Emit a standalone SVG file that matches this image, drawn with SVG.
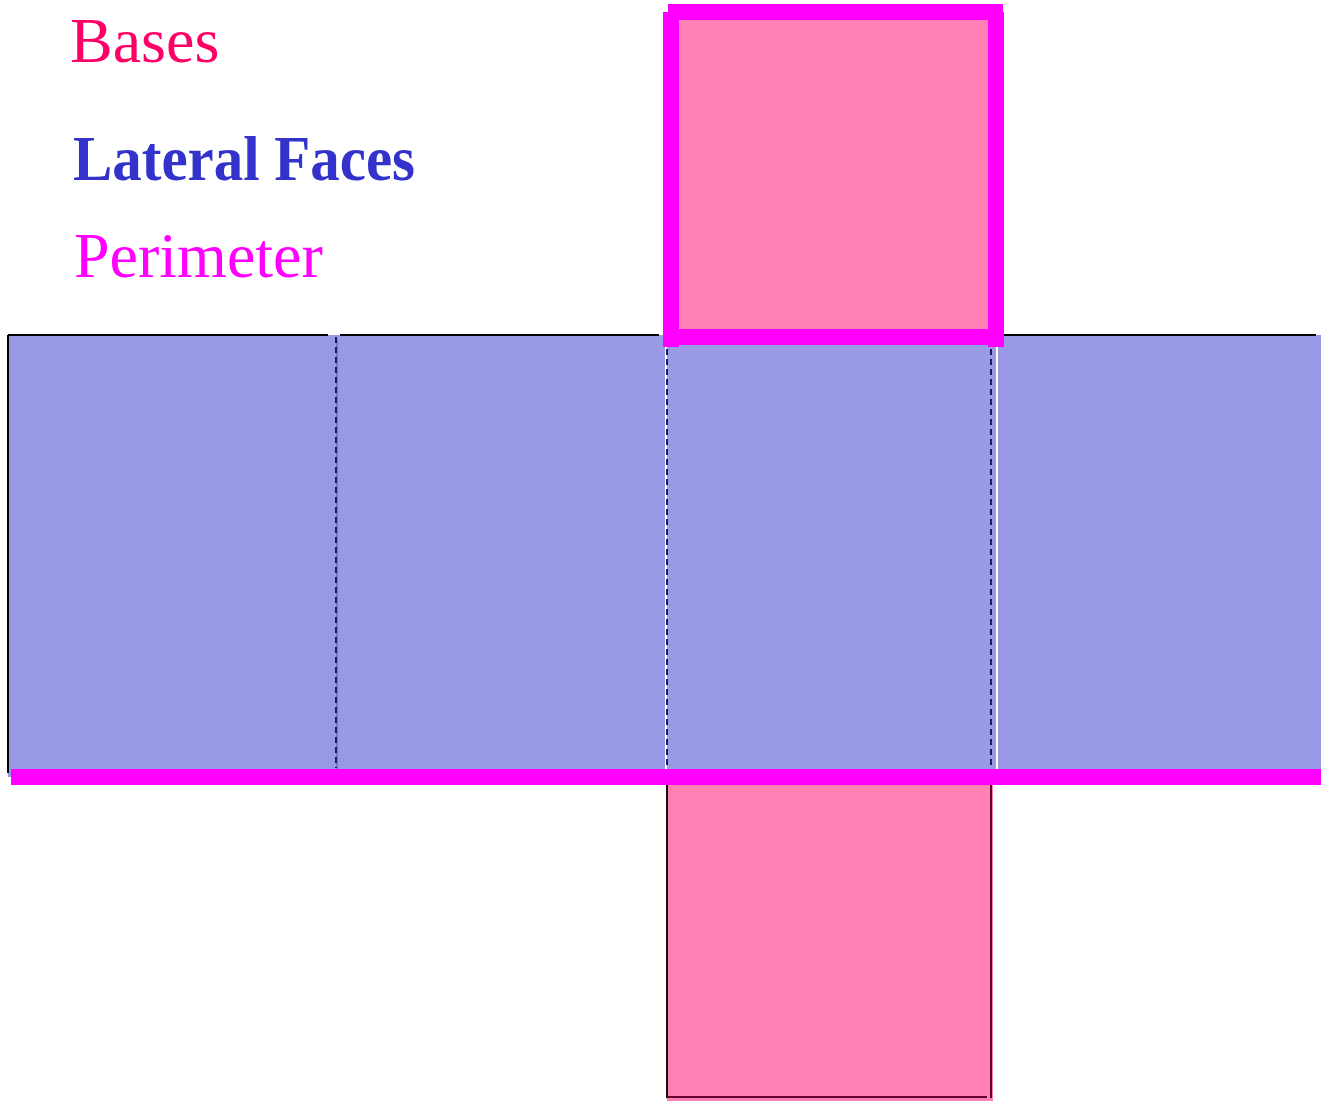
<svg xmlns="http://www.w3.org/2000/svg" width="1321" height="1101" viewBox="0 0 1321 1101">
<style>
.lbl{font-family:"Liberation Serif","Times New Roman",serif;font-size:64px}
.fold{stroke:#1a1a66;stroke-width:2;stroke-dasharray:6,4;fill:none}
.edge{stroke:#000;stroke-width:2;fill:none}
.per{stroke:#ff00ff;stroke-width:16;fill:none}
</style>
<rect width="1321" height="1101" fill="#fff"/>
<g id="legend">
<text class="lbl" x="70" y="62" fill="#ff0066">Bases</text>
<text class="lbl" x="73" y="180" fill="#3333cc" font-weight="bold" textLength="342" lengthAdjust="spacingAndGlyphs">Lateral Faces</text>
<text class="lbl" x="74" y="277" fill="#ff00ff">Perimeter</text>
</g>
<g id="lateral">
<rect x="8" y="335" width="1313" height="442" fill="#9999e6"/>
<line x1="666" y1="340" x2="666" y2="770" stroke="#fff" stroke-width="2"/>
<line x1="997" y1="340" x2="997" y2="770" stroke="#fff" stroke-width="2"/>
<line x1="337" y1="340" x2="337" y2="770" stroke="#5555cc" stroke-width="1"/>
</g>
<g id="bottom-base">
<rect x="667" y="785" width="326" height="316" fill="#ff80b3"/>
<line x1="667" y1="785" x2="667" y2="1098" stroke="#111" stroke-width="2"/>
<line x1="991" y1="785" x2="991" y2="1098" stroke="#660033" stroke-width="2"/>
<line x1="668" y1="1097" x2="987" y2="1097" stroke="#660033" stroke-width="2"/>
</g>
<g id="top-base">
<rect x="671" y="12" width="325" height="325" fill="#ff80b3"/>
</g>
<g id="connectors">
<line class="edge" x1="8" y1="335" x2="328" y2="335"/>
<line class="edge" x1="340" y1="335" x2="659" y2="335"/>
<line class="edge" x1="1004" y1="335" x2="1316" y2="335"/>
<line class="edge" x1="8" y1="335" x2="8" y2="773"/>
<line class="fold" x1="336" y1="337" x2="336" y2="768"/>
<line class="fold" x1="667" y1="349" x2="667" y2="768"/>
<line class="fold" x1="991" y1="349" x2="991" y2="768"/>
<line class="per" x1="11" y1="777" x2="1321" y2="777"/>
<line class="per" x1="668" y1="12" x2="1003" y2="12"/>
<line class="per" x1="671" y1="12" x2="671" y2="347"/>
<line class="per" x1="996" y1="12" x2="996" y2="347"/>
<line class="per" x1="679" y1="337" x2="1004" y2="337"/>
</g>
</svg>
